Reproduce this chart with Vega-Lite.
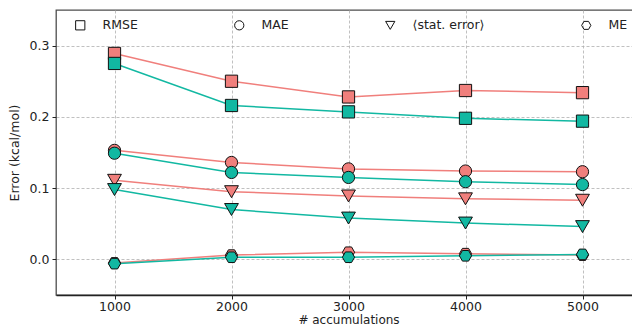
{
  "$schema": "https://vega.github.io/schema/vega-lite/v6.json",
  "width": 585,
  "height": 285,
  "autosize": {"type": "none"},
  "padding": {"left": 56, "top": 10, "right": 0, "bottom": 33},
  "background": "white",
  "config": {
    "font": "DejaVu Sans",
    "view": {"stroke": "#4d4d4d", "strokeWidth": 1.3},
    "axis": {
      "labelFont": "DejaVu Sans",
      "titleFont": "DejaVu Sans",
      "labelFontSize": 12.5,
      "titleFontSize": 12.5,
      "titleFontWeight": "normal",
      "labelColor": "#222",
      "titleColor": "#222",
      "gridColor": "#b0b0b0",
      "gridDash": [3, 2],
      "gridWidth": 0.8,
      "tickColor": "#222",
      "tickSize": 4,
      "domain": false
    }
  },
  "data": {
    "values": [
      {"n": 1000, "metric": "RMSE", "group": "a", "err": 0.289},
      {"n": 2000, "metric": "RMSE", "group": "a", "err": 0.250},
      {"n": 3000, "metric": "RMSE", "group": "a", "err": 0.228},
      {"n": 4000, "metric": "RMSE", "group": "a", "err": 0.237},
      {"n": 5000, "metric": "RMSE", "group": "a", "err": 0.234},
      {"n": 1000, "metric": "MAE", "group": "a", "err": 0.153},
      {"n": 2000, "metric": "MAE", "group": "a", "err": 0.136},
      {"n": 3000, "metric": "MAE", "group": "a", "err": 0.127},
      {"n": 4000, "metric": "MAE", "group": "a", "err": 0.124},
      {"n": 5000, "metric": "MAE", "group": "a", "err": 0.123},
      {"n": 1000, "metric": "⟨stat. error⟩", "group": "a", "err": 0.111},
      {"n": 2000, "metric": "⟨stat. error⟩", "group": "a", "err": 0.095},
      {"n": 3000, "metric": "⟨stat. error⟩", "group": "a", "err": 0.089},
      {"n": 4000, "metric": "⟨stat. error⟩", "group": "a", "err": 0.085},
      {"n": 5000, "metric": "⟨stat. error⟩", "group": "a", "err": 0.083},
      {"n": 1000, "metric": "ME", "group": "a", "err": -0.005},
      {"n": 2000, "metric": "ME", "group": "a", "err": 0.006},
      {"n": 3000, "metric": "ME", "group": "a", "err": 0.010},
      {"n": 4000, "metric": "ME", "group": "a", "err": 0.008},
      {"n": 5000, "metric": "ME", "group": "a", "err": 0.006},
      {"n": 1000, "metric": "RMSE", "group": "b", "err": 0.275},
      {"n": 2000, "metric": "RMSE", "group": "b", "err": 0.216},
      {"n": 3000, "metric": "RMSE", "group": "b", "err": 0.207},
      {"n": 4000, "metric": "RMSE", "group": "b", "err": 0.198},
      {"n": 5000, "metric": "RMSE", "group": "b", "err": 0.194},
      {"n": 1000, "metric": "MAE", "group": "b", "err": 0.149},
      {"n": 2000, "metric": "MAE", "group": "b", "err": 0.122},
      {"n": 3000, "metric": "MAE", "group": "b", "err": 0.115},
      {"n": 4000, "metric": "MAE", "group": "b", "err": 0.109},
      {"n": 5000, "metric": "MAE", "group": "b", "err": 0.105},
      {"n": 1000, "metric": "⟨stat. error⟩", "group": "b", "err": 0.098},
      {"n": 2000, "metric": "⟨stat. error⟩", "group": "b", "err": 0.070},
      {"n": 3000, "metric": "⟨stat. error⟩", "group": "b", "err": 0.058},
      {"n": 4000, "metric": "⟨stat. error⟩", "group": "b", "err": 0.051},
      {"n": 5000, "metric": "⟨stat. error⟩", "group": "b", "err": 0.046},
      {"n": 1000, "metric": "ME", "group": "b", "err": -0.006},
      {"n": 2000, "metric": "ME", "group": "b", "err": 0.003},
      {"n": 3000, "metric": "ME", "group": "b", "err": 0.003},
      {"n": 4000, "metric": "ME", "group": "b", "err": 0.005},
      {"n": 5000, "metric": "ME", "group": "b", "err": 0.007}
    ]
  },
  "encoding": {
    "x": {
      "field": "n",
      "type": "quantitative",
      "title": "# accumulations",
      "scale": {"domain": [500, 5500], "nice": false, "zero": false},
      "axis": {"values": [1000, 2000, 3000, 4000, 5000], "format": "d", "titlePadding": 2, "titleFontSize": 12, "labelPadding": 1, "domain": true, "domainColor": "#222", "domainWidth": 1.3}
    },
    "y": {
      "field": "err",
      "type": "quantitative",
      "title": "Error (kcal/mol)",
      "scale": {"domain": [-0.05, 0.35], "nice": false, "zero": false},
      "axis": {"values": [0, 0.1, 0.2, 0.3], "format": ".1f", "titlePadding": 8, "labelPadding": 3}
    }
  },
  "layer": [
    {
      "mark": {"type": "line", "strokeWidth": 1.5},
      "encoding": {
        "color": {"field": "group", "type": "nominal", "scale": {"domain": ["a", "b"], "range": ["#f07f7c", "#12b8a2"]}, "legend": null},
        "detail": {"field": "metric"}
      }
    },
    {
      "mark": {"type": "point", "filled": true, "opacity": 1, "stroke": "#111", "strokeWidth": 1},
      "encoding": {
        "color": {"field": "group", "type": "nominal", "scale": {"domain": ["a", "b"], "range": ["#f07f7c", "#12b8a2"]}, "legend": null},
        "shape": {
          "field": "metric",
          "type": "nominal",
          "scale": {
            "domain": ["RMSE", "MAE", "⟨stat. error⟩", "ME"],
            "range": ["square", "circle", "triangle-down", "M-1,0L-0.5,-0.866L0.5,-0.866L1,0L0.5,0.866L-0.5,0.866Z"]
          },
          "legend": {
            "title": null,
            "orient": "none",
            "legendX": 18,
            "legendY": 9,
            "direction": "horizontal",
            "columns": 4,
            "columnPadding": 94,
            "symbolSize": 85,
            "symbolFillColor": "transparent",
            "symbolStrokeColor": "#111",
            "symbolStrokeWidth": 1,
            "labelFont": "DejaVu Sans",
            "labelFontSize": 12.5,
            "labelColor": "#222",
            "labelOffset": 16
          }
        },
        "size": {
          "condition": {"test": "datum.metric == '⟨stat. error⟩'", "value": 190},
          "value": 150
        }
      }
    }
  ]
}
